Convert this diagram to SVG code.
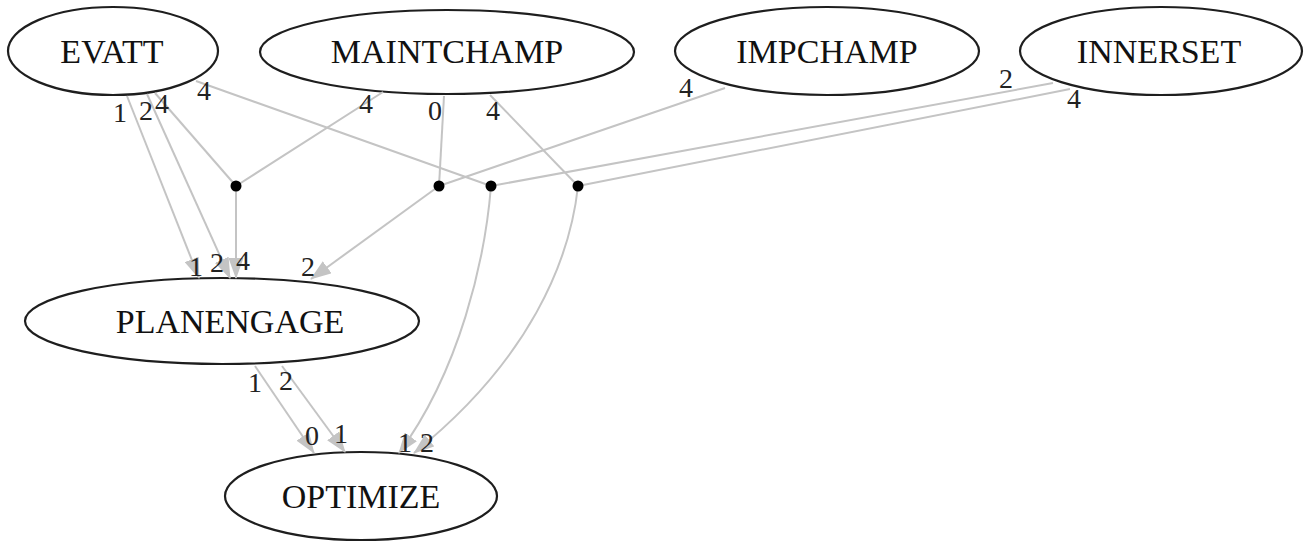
<svg xmlns="http://www.w3.org/2000/svg" width="1307" height="544" viewBox="0 0 1307 544">
<style>
.node ellipse{fill:#fff;stroke:#1e1e1e;stroke-width:2.2}
.node text{font-family:"Liberation Serif","Times New Roman",serif;font-size:34px;fill:#111;text-anchor:middle}
.edge{fill:none;stroke:#c4c4c4;stroke-width:2}
.arr{marker-end:url(#ah)}
.lbl{font-family:"Liberation Serif","Times New Roman",serif;font-size:28px;fill:#222;text-anchor:middle}
.dot{fill:#000}
</style>
<defs>
<marker id="ah" viewBox="0 0 21 15" refX="20" refY="7.5" markerWidth="21" markerHeight="15" markerUnits="userSpaceOnUse" orient="auto" preserveAspectRatio="none">
<path d="M0,0 L21,7.5 L0,15 z" fill="#c4c4c4"/>
</marker>
</defs>
<rect width="1307" height="544" fill="#fff"/>
<g id="EVATT" class="node"><ellipse cx="113" cy="51" rx="105" ry="44"/><text x="112" y="63">EVATT</text></g>
<g id="MAINTCHAMP" class="node"><ellipse cx="447" cy="52" rx="187" ry="42"/><text x="447" y="63">MAINTCHAMP</text></g>
<g id="IMPCHAMP" class="node"><ellipse cx="827" cy="51" rx="152" ry="44"/><text x="827" y="63">IMPCHAMP</text></g>
<g id="INNERSET" class="node"><ellipse cx="1161" cy="51" rx="141" ry="44"/><text x="1159" y="63">INNERSET</text></g>
<g id="PLANENGAGE" class="node"><ellipse cx="222" cy="321" rx="197" ry="43"/><text x="230" y="333">PLANENGAGE</text></g>
<g id="OPTIMIZE" class="node"><ellipse cx="361" cy="496" rx="136" ry="44"/><text x="361" y="508">OPTIMIZE</text></g>
<g id="connectors">
<path class="edge arr" d="M127,96 L199,278"/>
<path class="edge arr" d="M147,94 L230,278"/>
<path class="edge" d="M155,93 L236,186"/>
<path class="edge" d="M383,92 L236,186"/>
<path class="edge arr" d="M236,186 L236,278"/>
<path class="edge" d="M196,81 L491,186"/>
<path class="edge" d="M444,96 L439,186"/>
<path class="edge" d="M490,95 L578,186"/>
<path class="edge" d="M725,88 L439,186"/>
<path class="edge arr" d="M439,186 L311,279"/>
<path class="edge" d="M1053,83 L491,186"/>
<path class="edge" d="M1070,89 L578,186"/>
<path class="edge arr" d="M491,186 C485,260 460,370 399,453"/>
<path class="edge arr" d="M578,186 C570,260 530,360 414,453"/>
<path class="edge arr" d="M255,366 L314,453"/>
<path class="edge arr" d="M282,366 L345,452"/>
<circle class="dot" cx="236" cy="186" r="5.5"/>
<circle class="dot" cx="439" cy="186" r="5.5"/>
<circle class="dot" cx="491" cy="186" r="5.5"/>
<circle class="dot" cx="578" cy="186" r="5.5"/>
<text class="lbl" x="120" y="122">1</text>
<text class="lbl" x="146" y="120">2</text>
<text class="lbl" x="162" y="113">4</text>
<text class="lbl" x="204" y="100">4</text>
<text class="lbl" x="366" y="113">4</text>
<text class="lbl" x="435" y="120">0</text>
<text class="lbl" x="493" y="120">4</text>
<text class="lbl" x="686" y="97">4</text>
<text class="lbl" x="1006" y="88">2</text>
<text class="lbl" x="1074" y="108">4</text>
<text class="lbl" x="196" y="276">1</text>
<text class="lbl" x="217" y="272">2</text>
<text class="lbl" x="243" y="270">4</text>
<text class="lbl" x="308" y="276">2</text>
<text class="lbl" x="255" y="392">1</text>
<text class="lbl" x="286" y="390">2</text>
<text class="lbl" x="312" y="445">0</text>
<text class="lbl" x="341" y="443">1</text>
<text class="lbl" x="405" y="452">1</text>
<text class="lbl" x="427" y="452">2</text>
</g>
</svg>
